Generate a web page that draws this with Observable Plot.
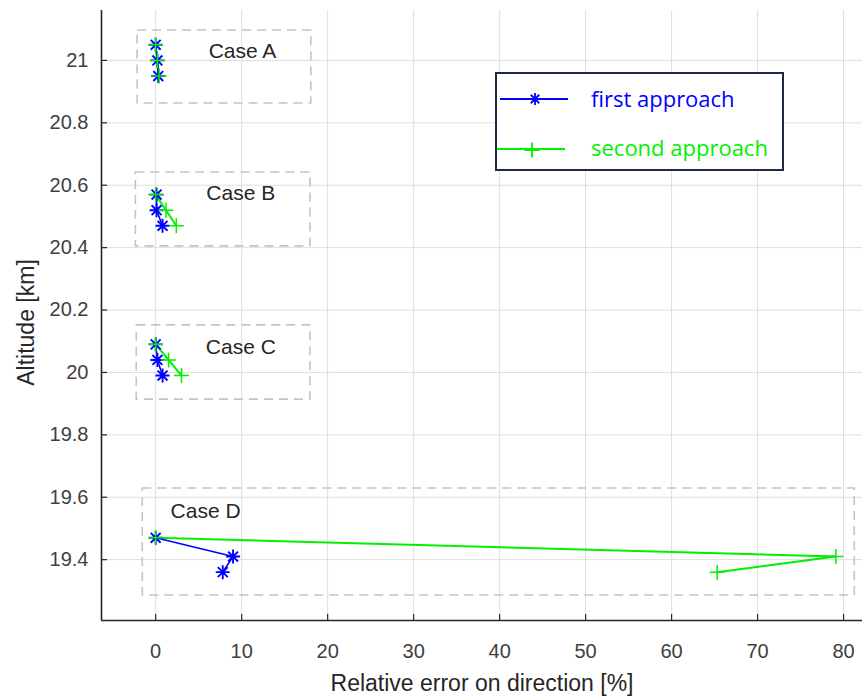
<!DOCTYPE html>
<html><head><meta charset="utf-8">
<script src="https://cdn.jsdelivr.net/npm/d3@7"></script>
<script src="https://cdn.jsdelivr.net/npm/@observablehq/plot@0.6"></script>
<style>
body{margin:0;background:#fff;}
#wrap{position:relative;width:866px;height:698px;}
#legend{position:absolute;left:495px;top:72px;width:285px;height:95px;border:2px solid #1c2a48;background:#fff;font-family:"Open Sans",sans-serif;font-size:22px;}
#legend .row{position:absolute;left:0;height:30px;display:flex;align-items:center;}
#legend svg{display:block;}
#legend span{position:absolute;left:94px;white-space:nowrap;}
</style></head>
<body><div id="wrap"></div>
<script>
// ---- data ----
const cases = ["A","A","A","B","B","B","C","C","C","D","D","D"];
const altitude = [21.05,21.00,20.95, 20.57,20.52,20.47, 20.09,20.04,19.99, 19.47,19.41,19.36];
const firstApproach = [0.0,0.2,0.3, 0.1,0.1,0.8, 0.0,0.2,0.8, 0.0,9.0,7.8];
const secondApproach = [0.0,0.2,0.4, 0.0,1.2,2.4, 0.0,1.5,3.0, 0.0,79.1,65.3];
const caseLabels = ["Case A","Case B","Case C","Case D"];
const caseLabelX = [10.1, 9.9, 9.9, 5.8];
const caseLabelY = [21.03, 20.575, 20.08, 19.555];
const boxX1 = [-2.1,-2.3,-2.2,-1.5];
const boxX2 = [18.1,18.0,18.0,81.3];
const boxY1 = [20.862,20.404,19.913,19.285];
const boxY2 = [21.096,20.641,20.151,19.628];
const xTicks = [0,10,20,30,40,50,60,70,80];
const yTicks = [19.4,19.6,19.8,20.0,20.2,20.4,20.6,20.8,21.0];
const xDomain = [-6.3, 82.2];
const yDomain = [19.205, 21.16];
const seriesNames = ["first approach","second approach"];
const seriesColors = ["#0000ff","#00f000"];

const rows = altitude.map((a,i)=>({case:cases[i], alt:a, first:firstApproach[i], second:secondApproach[i]}));
const boxes = caseLabels.map((c,i)=>({x1:boxX1[i],x2:boxX2[i],y1:boxY1[i],y2:boxY2[i]}));
const labels = caseLabels.map((c,i)=>({t:c,x:caseLabelX[i],y:caseLabelY[i]}));

const starSym = {draw(ctx,size){const r=Math.sqrt(size/Math.PI);const d=r*0.7071;
  ctx.moveTo(-r,0);ctx.lineTo(r,0);ctx.moveTo(0,-r);ctx.lineTo(0,r);
  ctx.moveTo(-d,-d);ctx.lineTo(d,d);ctx.moveTo(-d,d);ctx.lineTo(d,-d);}};
const plusSym = {draw(ctx,size){const r=Math.sqrt(size/Math.PI);
  ctx.moveTo(-r,0);ctx.lineTo(r,0);ctx.moveTo(0,-r);ctx.lineTo(0,r);}};

const W=866,H=698,ML=101,MR=4,MT=10,MB=78;
const plot = Plot.plot({
  width:W,height:H,marginLeft:ML,marginRight:MR,marginTop:MT,marginBottom:MB,
  style:{fontFamily:"'Liberation Sans',Arial,sans-serif",background:"#fff",color:"#404040"},
  x:{domain:xDomain},
  y:{domain:yDomain},
  marks:[
    Plot.ruleX(xTicks,{stroke:"#dedede",strokeWidth:1}),
    Plot.ruleY(yTicks,{stroke:"#dedede",strokeWidth:1}),
    Plot.rect(boxes,{x1:"x1",x2:"x2",y1:"y1",y2:"y2",fill:"none",stroke:"#c4c4c4",strokeWidth:1.6,strokeDasharray:"9,6"}),
    Plot.line(rows,{x:"second",y:"alt",z:"case",stroke:seriesColors[1],strokeWidth:2}),
    Plot.line(rows,{x:"first",y:"alt",z:"case",stroke:seriesColors[0],strokeWidth:1.6}),
    Plot.dot(rows,{x:"first",y:"alt",symbol:starSym,r:7,stroke:seriesColors[0],strokeWidth:1.9,fill:"none"}),
    Plot.dot(rows,{x:"second",y:"alt",symbol:plusSym,r:7.5,stroke:seriesColors[1],strokeWidth:1.5,fill:"none"}),
    Plot.text(labels,{x:"x",y:"y",text:"t",fontSize:21,fill:"#262626"}),
    Plot.ruleX(xTicks,{stroke:"#262626",strokeWidth:1.2,insetTop:H-MT-MB-6}),
    Plot.ruleY(yTicks,{stroke:"#262626",strokeWidth:1.2,insetRight:W-ML-MR-6}),
    Plot.ruleX([xDomain[0]],{stroke:"#262626",strokeWidth:1.6}),
    Plot.ruleY([yDomain[0]],{stroke:"#262626",strokeWidth:1.6}),
    Plot.axisX({ticks:xTicks,tickSize:0,tickPadding:23,fontSize:20,label:null,fill:"#404040"}),
    Plot.axisY({ticks:yTicks,tickSize:0,tickPadding:13,fontSize:20,label:null,fill:"#404040",tickFormat:d=>String(+d.toFixed(1))}),
    Plot.text(["Relative error on direction [%]"],{frameAnchor:"bottom",dy:70,fontSize:23,fill:"#262626"}),
    Plot.text(["Altitude [km]"],{frameAnchor:"left",textAnchor:"middle",rotate:-90,dx:-75,dy:7,fontSize:23,fill:"#262626"})
  ]
});
const wrap=document.getElementById("wrap");
wrap.appendChild(plot);

// legend
const leg=document.createElement("div");leg.id="legend";
const syms=[starSym,plusSym];
seriesNames.forEach((name,i)=>{
  const row=document.createElement("div");row.className="row";row.style.top=(i===0?9:58)+"px";row.style.width="280px";
  const s=d3.create("svg").attr("width",80).attr("height",30);
  s.append("line").attr("x1",i===0?3:0).attr("x2",i===0?71:68).attr("y1",i===0?16:17).attr("y2",i===0?16:17).attr("stroke",seriesColors[i]).attr("stroke-width",2.2);
  s.append("path").attr("transform",`translate(${i===0?38:35},${i===0?16:18})`).attr("d",d3.symbol(syms[i],Math.PI*(i===0?36:56))()).attr("stroke",seriesColors[i]).attr("stroke-width",1.8).attr("fill","none");
  row.appendChild(s.node());
  const sp=document.createElement("span");sp.textContent=name;sp.style.color=seriesColors[i];
  row.appendChild(sp);
  leg.appendChild(row);
});
wrap.appendChild(leg);
</script></body></html>
